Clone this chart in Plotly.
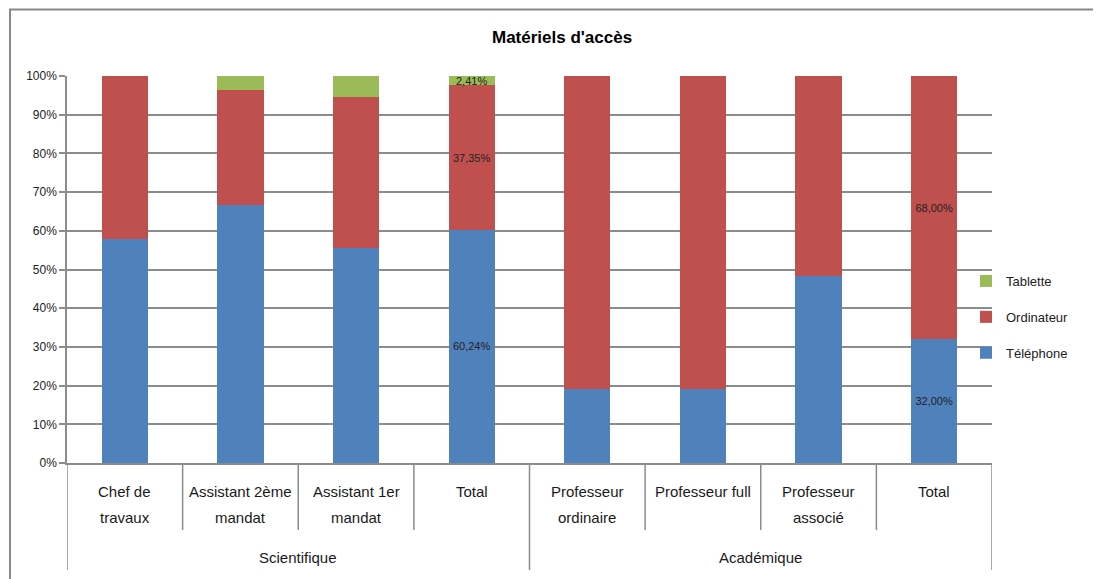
import plotly.graph_objects as go

# ---- data ----
groups = ["Scientifique", "Académique"]
categories = ["Chef de<br>travaux", "Assistant 2ème<br>mandat", "Assistant 1er<br>mandat", "Total",
              "Professeur<br>ordinaire", "Professeur full", "Professeur<br>associé", "Total"]
group_of = [0, 0, 0, 0, 1, 1, 1, 1]
telephone = [57.9, 66.67, 55.56, 60.24, 19.0, 19.0, 48.3, 32.00]
ordinateur = [42.1, 29.63, 38.89, 37.35, 81.0, 81.0, 51.7, 68.00]
tablette = [0.0, 3.70, 5.55, 2.41, 0.0, 0.0, 0.0, 0.0]
labelled = [False, False, False, True, False, False, False, True]
yticks = [0, 10, 20, 30, 40, 50, 60, 70, 80, 90, 100]

FONT = "Liberation Sans Narrow, Arial Narrow, Liberation Sans, sans-serif"
GRID = "#8c8c8c"

def lab(vals):
    return [(f"{v:.2f}".replace(".", ",") + "%") if (l and v > 0) else "" for v, l in zip(vals, labelled)]

xs = list(range(len(categories)))
fig = go.Figure()
series = [("Téléphone", telephone, "#4F81BD", "telephone", 3),
          ("Ordinateur", ordinateur, "#C0504D", "ordinateur", 2),
          ("Tablette", tablette, "#9BBB59", "tablette", 1)]
for name, vals, col, grp, rank in series:
    fig.add_trace(go.Bar(
        x=xs, y=vals, name=name, marker=dict(color=col, line=dict(width=0)),
        width=0.4, text=lab(vals), textposition="inside", insidetextanchor="middle",
        textangle=0, constraintext="none", legendgroup=grp, legendrank=rank,
        textfont=dict(family=FONT, size=11, color="#222222"),
        hoverinfo="skip"))

# page-pixel placement (page has an 8px body offset)
OFF = 8
L, R, T, B = 67, 992, 76, 463
W, H = R - L, B - T
def px(x): return (x - L) / W
def py(y): return (B - y) / H

shapes = []
shapes.append(dict(type="rect", xref="paper", yref="paper", x0=px(10), x1=px(1300),
                   y0=py(800), y1=py(9.5), line=dict(color="#888888", width=2), layer="below"))
for i in range(len(categories) + 1):
    xb = i - 0.5
    outer = (i == 0 or i == len(categories) or group_of[i - 1] != group_of[i])
    shapes.append(dict(type="line", xref="x", yref="paper", x0=xb, x1=xb, y0=0,
                       y1=py(570) if outer else py(530),
                       line=dict(color=GRID, width=1.5)))

annotations = []
for i, c in enumerate(categories):
    lines = c.split("<br>")
    for j, t in enumerate(lines):
        annotations.append(dict(x=i, y=py(491 + 26 * j), xref="x", yref="paper", text=t,
                                showarrow=False, yanchor="middle", xanchor="center",
                                font=dict(family=FONT, size=15, color="#1a1a1a")))
for g, name in enumerate(groups):
    idx = [i for i, gg in enumerate(group_of) if gg == g]
    annotations.append(dict(x=(idx[0] + idx[-1]) / 2, y=py(557), xref="x", yref="paper",
                            text=name, showarrow=False, yanchor="middle",
                            font=dict(family=FONT, size=15, color="#1a1a1a")))
annotations.append(dict(x=px(562), y=py(37), xref="paper", yref="paper",
                        text="<b>Matériels d'accès</b>", showarrow=False, yanchor="middle",
                        font=dict(family=FONT, size=17, color="#000000")))

fig.update_layout(
    barmode="stack", width=1101, height=579,
    margin=dict(l=L - OFF, r=1101 - (R - OFF), t=T - OFF, b=579 - (B - OFF)),
    paper_bgcolor="white", plot_bgcolor="white",
    font=dict(family=FONT, size=12, color="#222222"),
    shapes=shapes, annotations=annotations,
    legend=dict(x=px(966), y=py(266), xanchor="left", yanchor="top",
                traceorder="grouped", tracegroupgap=16,
                font=dict(family=FONT, size=13, color="#222222"),
                bgcolor="rgba(0,0,0,0)"),
    showlegend=True,
)
fig.update_xaxes(range=[-0.5, len(categories) - 0.5], showticklabels=False, showgrid=False,
                 zeroline=False, showline=True, linecolor=GRID, linewidth=1.5, ticks="")
fig.update_yaxes(range=[0, 100], tickvals=yticks, ticktext=[f"{v}%" for v in yticks],
                 showgrid=True, gridcolor=GRID, gridwidth=1.5, zeroline=False,
                 showline=True, linecolor=GRID, linewidth=1.5,
                 ticks="outside", ticklen=6, tickcolor=GRID, tickwidth=1.5,
                 tickfont=dict(family=FONT, size=12, color="#222222"))

fig.write_html("out.html")
